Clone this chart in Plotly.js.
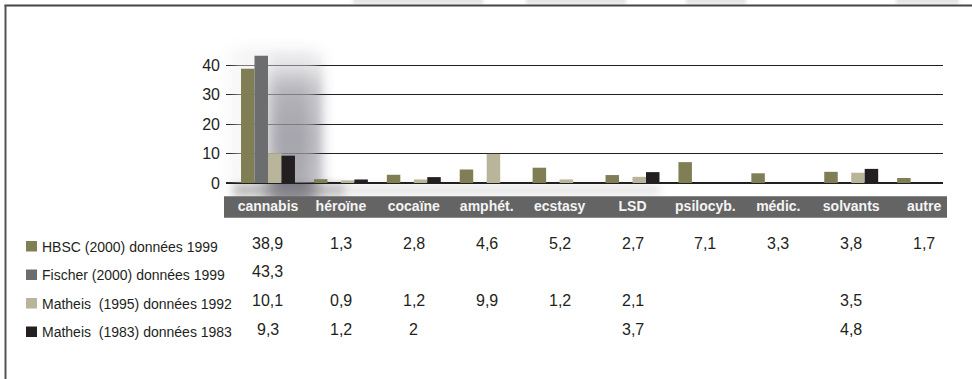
<!DOCTYPE html>
<html>
<head>
<meta charset="utf-8">
<script src="https://cdn.plot.ly/plotly-3.0.1.min.js"></script>
<style>
  html, body { margin: 0; padding: 0; background: #ffffff; }
  #wrap { position: relative; width: 972px; height: 379px; overflow: hidden; }
  #chart { position: absolute; left: 0; top: 0; width: 972px; height: 379px; z-index: 1; }
  .smudge { position: absolute; z-index: 0; pointer-events: none; }
</style>
</head>
<body>
<div id="wrap">
  <div id="backdrop"></div>
  <div id="chart"></div>
</div>
<script>
// ---- data ----
const categories = ['cannabis', 'héroïne', 'cocaïne', 'amphét.', 'ecstasy', 'LSD', 'psilocyb.', 'médic.', 'solvants', 'autre'];
const seriesNames = [
  'HBSC (2000) données 1999',
  'Fischer (2000) données 1999',
  'Matheis \u00a0(1995) données 1992',
  'Matheis \u00a0(1983) données 1983'
];
const hbsc1999     = [38.9, 1.3, 2.8, 4.6, 5.2, 2.7, 7.1, 3.3, 3.8, 1.7];
const fischer1999  = [43.3, null, null, null, null, null, null, null, null, null];
const matheis1992  = [10.1, 0.9, 1.2, 9.9, 1.2, 2.1, null, null, 3.5, null];
const matheis1983  = [9.3, 1.2, 2, null, null, 3.7, null, null, 4.8, null];
const yTickValues  = [0, 10, 20, 30, 40];

// ---- styling ----
const seriesValues = [hbsc1999, fischer1999, matheis1992, matheis1983];
const seriesColors = ['#807e55', '#6c6d6f', '#b9b59b', '#231f20'];
const FONT = 'Liberation Sans, Arial, Helvetica, sans-serif';
const INK = '#231f20';

// plot area in page pixels
const W_PAGE = 972, H_PAGE = 379;
const L = 226, R = 943, T = 48, B = 183;
const W = R - L, H = B - T;
const PX_PER_UNIT = 2.94;
const yMax = H / PX_PER_UNIT;
const xRange = [-0.576, 9.259];

// pixel -> paper / data helpers for decoration placement
const fx = px => (px - L) / W;
const fy = py => (B - py) / H;
const dx = px => xRange[0] + (px - L) / W * (xRange[1] - xRange[0]);
const dy = py => (B - py) / H * yMax;

// rows of the value table (page y of text centre)
const valueRowY  = [243, 271.5, 300, 329];
const legendRowY = [246.5, 275, 303.5, 332];

const fmt = v => String(v).replace('.', ',');

// soft smudges painted behind the chart (html layer under the transparent plot)
const backdrop = document.getElementById('backdrop');
function smudge(left, top, width, height, background, blur) {
  const d = document.createElement('div');
  d.className = 'smudge';
  Object.assign(d.style, {
    left: left + 'px', top: top + 'px', width: width + 'px', height: height + 'px',
    background: background, filter: 'blur(' + blur + 'px)'
  });
  backdrop.appendChild(d);
}
// light haze around the first group
smudge(232, 50, 90, 150, 'rgba(215,215,220,0.35)', 8);
// dark shadow behind the first group
smudge(268, 56, 48, 146,
  'linear-gradient(to bottom, rgba(100,99,112,0) 0%, rgba(100,99,112,0.8) 22%, rgba(100,99,112,1) 55%, rgba(100,99,112,0.85) 100%)', 8);
// grey haze under the base line
smudge(234, 184, 110, 12, 'rgba(140,140,140,0.55)', 4);
smudge(330, 185, 330, 10, 'rgba(200,200,200,0.45)', 4);
// faint marks above the frame
[[353, 483], [526, 626], [686, 746], [896, 959]].forEach(([a, b]) =>
  smudge(a, -2, b - a, 6, '#e4e4e4', 1.5));

const traces = seriesValues.map((vals, s) => ({
  type: 'bar',
  name: seriesNames[s],
  x: categories,
  y: vals,
  marker: { color: seriesColors[s], line: { width: 0 } },
  hoverinfo: 'skip'
}));

const shapes = [];
const blurList = [];

// whitish veil over the grid lines around the first group
shapes.push({
  type: 'rect', layer: 'between', xref: 'x', yref: 'y',
  x0: dx(234), x1: dx(316), y0: dy(186), y1: dy(58),
  fillcolor: '#ffffff', opacity: 0.42, line: { width: 0 }
});
blurList.push({ index: shapes.length - 1, blur: 5 });

// category band
shapes.push({
  type: 'rect', layer: 'below', xref: 'paper', yref: 'paper',
  x0: fx(224), x1: fx(947), y0: fy(217.7), y1: fy(196.3),
  fillcolor: '#646464', line: { width: 0 }
});

// frame
shapes.push({
  type: 'line', layer: 'above', xref: 'paper', yref: 'paper',
  x0: fx(4.5), x1: fx(972), y0: fy(5.5), y1: fy(5.5),
  line: { color: '#454545', width: 2 }
});
shapes.push({
  type: 'line', layer: 'above', xref: 'paper', yref: 'paper',
  x0: fx(5.5), x1: fx(5.5), y0: fy(5), y1: fy(382),
  line: { color: '#555555', width: 2 }
});

// legend squares
legendRowY.forEach((py, s) => {
  shapes.push({
    type: 'rect', layer: 'above', xref: 'paper', yref: 'paper',
    x0: fx(26), x1: fx(37), y0: fy(py + 5), y1: fy(py - 5.5),
    fillcolor: seriesColors[s], line: { width: 0 }
  });
});

const annotations = [];
// legend labels
seriesNames.forEach((name, s) => {
  annotations.push({
    xref: 'paper', yref: 'paper', x: fx(40), y: fy(legendRowY[s]),
    xanchor: 'left', yanchor: 'middle', showarrow: false,
    text: name, font: { family: FONT, size: 14, color: INK }
  });
});
// value table
seriesValues.forEach((vals, s) => {
  vals.forEach((v, i) => {
    if (v === null) return;
    annotations.push({
      xref: 'x', yref: 'paper', x: categories[i], y: fy(valueRowY[s]),
      xanchor: 'center', yanchor: 'middle', showarrow: false,
      text: fmt(v), font: { family: FONT, size: 16, color: INK }
    });
  });
});

const layout = {
  width: W_PAGE, height: H_PAGE,
  margin: { l: L, r: W_PAGE - R, t: T, b: H_PAGE - B, pad: 0 },
  paper_bgcolor: 'rgba(0,0,0,0)', plot_bgcolor: 'rgba(0,0,0,0)',
  showlegend: false,
  barmode: 'group', bargap: 0.26, bargroupgap: 0,
  font: { family: FONT, color: INK },
  xaxis: {
    type: 'category', range: xRange,
    showgrid: false, showline: false, zeroline: false,
    ticks: '', ticklabelstandoff: 13,
    tickfont: { family: FONT, size: 14, color: '#f4f4f4', weight: 'bold' }
  },
  yaxis: {
    range: [0, yMax], tickvals: yTickValues,
    showgrid: true, gridcolor: INK, gridwidth: 1,
    zeroline: true, zerolinecolor: INK, zerolinewidth: 1.5,
    showline: false, ticks: '', ticklabelstandoff: 5,
    tickfont: { family: FONT, size: 16, color: INK }
  },
  shapes: shapes,
  annotations: annotations
};

Plotly.newPlot('chart', traces, layout, { staticPlot: true, displayModeBar: false }).then(gd => {
  blurList.forEach(({ index, blur }) => {
    gd.querySelectorAll('.shapelayer path[data-index="' + index + '"]').forEach(p => {
      p.style.filter = 'blur(' + blur + 'px)';
    });
  });
});
</script>
</body>
</html>
